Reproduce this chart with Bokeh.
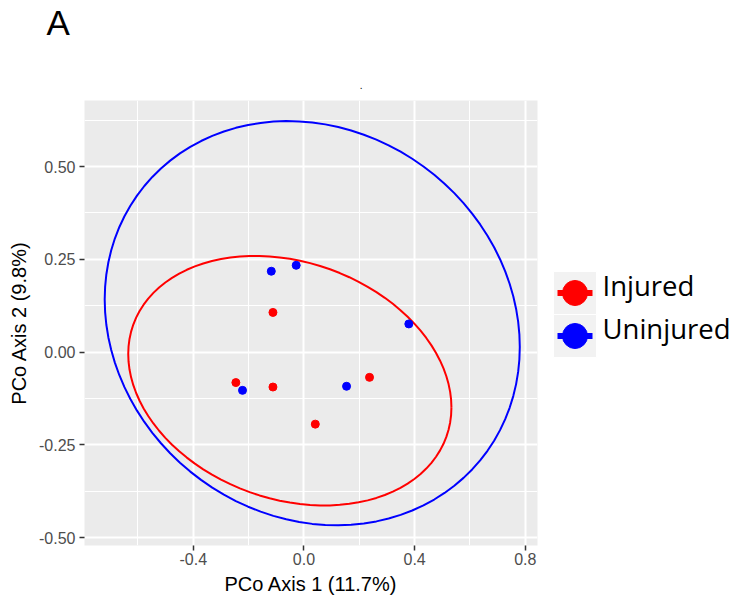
import numpy as np
from bokeh.plotting import figure
from bokeh.models import Range1d, FixedTicker, NumeralTickFormatter
from bokeh.layouts import row, column
from bokeh.embed import file_html
from bokeh.resources import INLINE
from bokeh.core.properties import value

# ---------------- data ----------------
groups = ["Injured", "Uninjured"]
colors = ["#FF0000", "#0000FF"]

injured_x = [-0.112, -0.246, -0.112, 0.041, 0.237]
injured_y = [0.107, -0.082, -0.094, -0.194, -0.068]
uninjured_x = [-0.118, -0.028, 0.379, 0.154, -0.222]
uninjured_y = [0.218, 0.234, 0.076, -0.092, -0.103]

# 95% ellipse parameters: centre and shape matrix
injured_center = [-0.051, -0.077]
injured_shape = [[0.341, -0.042], [-0.042, 0.113]]
uninjured_center = [0.030, 0.078]
uninjured_shape = [[0.5625, -0.048], [-0.048, 0.2965]]

x_ticks = [-0.4, 0.0, 0.4, 0.8]
x_minor = [-0.6, -0.2, 0.2, 0.6]
y_ticks = [-0.5, -0.25, 0.0, 0.25, 0.5]
y_minor = [-0.375, -0.125, 0.125, 0.375, 0.625]

x_title = "PCo Axis 1 (11.7%)"
y_title = "PCo Axis 2 (9.8%)"
panel_label = ["A"]
plot_title = ["."]


def ellipse_path(center, shape, n=101):
    L = np.linalg.cholesky(np.array(shape))
    t = np.linspace(0, 2 * np.pi, n)
    pts = L @ np.vstack([np.cos(t), np.sin(t)])
    return center[0] + pts[0], center[1] + pts[1]


def blank(fig):
    fig.grid.visible = False
    fig.outline_line_color = None
    fig.background_fill_color = "white"
    fig.border_fill_color = "white"


# ---------------- header (panel letter + title) ----------------
head = figure(width=545, height=100, x_range=Range1d(0, 545), y_range=Range1d(0, 100),
              output_backend="svg", toolbar_location=None,
              x_axis_location=None, y_axis_location=None,
              min_border_left=0, min_border_right=0, min_border_top=0, min_border_bottom=0)
blank(head)
head.text(x=[46], y=[78.5], text=panel_label, text_font=value("Liberation Sans"),
          text_font_size="35px", text_color="black",
          text_baseline="alphabetic", text_align="left")
head.text(x=[360.7], y=[15.5], text=plot_title, text_font=value("Liberation Sans"),
          text_font_size="10px", text_color="black",
          text_baseline="alphabetic", text_align="center")

# ---------------- main plot ----------------
p = figure(width=545, height=498,
           x_range=Range1d(-0.793, 0.844), y_range=Range1d(-0.521, 0.678),
           output_backend="svg", toolbar_location=None,
           min_border_left=84, min_border_right=8,
           min_border_top=0, min_border_bottom=53)
p.background_fill_color = "#EBEBEB"
p.border_fill_color = "white"
p.outline_line_color = None

p.xaxis.ticker = FixedTicker(ticks=x_ticks, minor_ticks=x_minor)
p.yaxis.ticker = FixedTicker(ticks=y_ticks, minor_ticks=y_minor)
p.xaxis.formatter = NumeralTickFormatter(format="0.0")
p.yaxis.formatter = NumeralTickFormatter(format="0.00")

for g in (p.xgrid, p.ygrid):
    g.grid_line_color = "white"
    g.grid_line_width = 2
    g.minor_grid_line_color = "white"
    g.minor_grid_line_width = 1

for ax in (p.xaxis, p.yaxis):
    ax.axis_line_color = None
    ax.minor_tick_line_color = None
    ax.major_tick_line_color = "#333333"
    ax.major_tick_line_width = 1.5
    ax.major_tick_out = 5
    ax.major_tick_in = 0
    ax.major_label_text_font = "Liberation Sans"
    ax.major_label_text_font_size = "16px"
    ax.major_label_text_color = "#4D4D4D"
    ax.axis_label_text_font = "Liberation Sans"
    ax.axis_label_text_font_size = "20px"
    ax.axis_label_text_font_style = "normal"
    ax.axis_label_text_color = "black"

p.xaxis.axis_label = x_title
p.yaxis.axis_label = y_title
p.xaxis.major_label_standoff = 2
p.xaxis.axis_label_standoff = 5
p.yaxis.major_label_standoff = 4
p.yaxis.axis_label_standoff = 6

for (cx, sh, col) in ((injured_center, injured_shape, colors[0]),
                      (uninjured_center, uninjured_shape, colors[1])):
    ex, ey = ellipse_path(cx, sh)
    p.line(ex, ey, line_color=col, line_width=2)

p.scatter(injured_x, injured_y, size=8, color=colors[0])
p.scatter(uninjured_x, uninjured_y, size=8, color=colors[1])

# ---------------- legend panel ----------------
leg = figure(width=189, height=598, x_range=Range1d(0, 189), y_range=Range1d(0, 598),
             output_backend="svg", toolbar_location=None,
             x_axis_location=None, y_axis_location=None,
             min_border_left=0, min_border_right=0, min_border_top=0, min_border_bottom=0)
blank(leg)

key_size = 43
key_left = 8
key_top = 327
idx = np.arange(len(groups))
kx = np.full(len(groups), key_left + key_size / 2)
ky = key_top - key_size * (idx + 0.5)

leg.rect(x=kx, y=ky, width=key_size, height=key_size,
         fill_color="#F2F2F2", line_color="white", line_width=1)
leg.segment(x0=kx - 17.5, x1=kx + 17.5, y0=ky, y1=ky, line_color=colors, line_width=6)
leg.scatter(kx, ky, size=25, color=colors)
leg.text(x=kx + 27.5, y=ky + 7.5, text=groups, text_font=value("Open Sans"),
         text_font_size="27.5px", text_color="black",
         text_baseline="alphabetic", text_align="left")

layout = row(column(row(head), p), leg)
open("out.html", "w").write(file_html(layout, INLINE))
